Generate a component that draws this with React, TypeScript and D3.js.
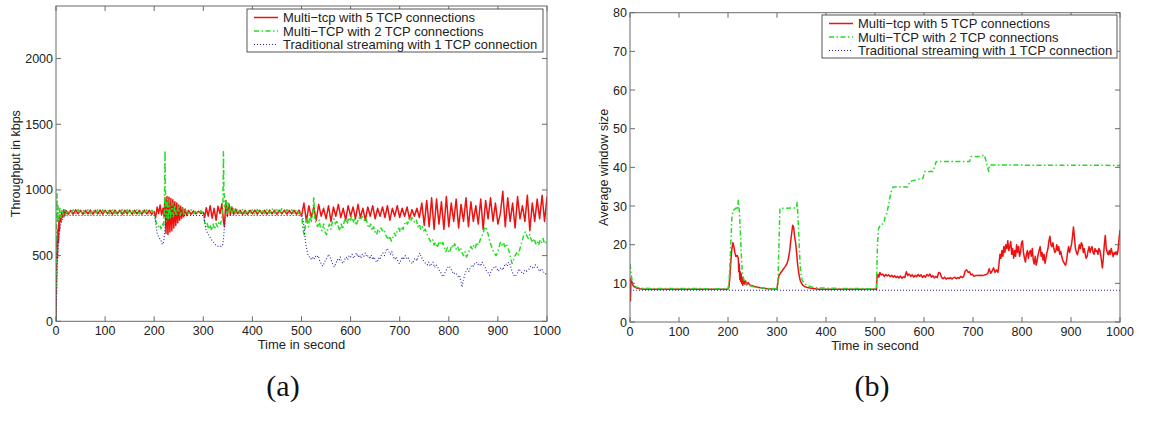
import React from 'react';
import * as d3 from 'd3';

type Pt = [number, number];

// shared axis data
const timeTicks = [0, 100, 200, 300, 400, 500, 600, 700, 800, 900, 1000];
const throughputTicks = [0, 500, 1000, 1500, 2000];
const windowTicks = [0, 10, 20, 30, 40, 50, 60, 70, 80];

const legendLabels = [
  'Multi\u2212tcp with 5 TCP connections',
  'Multi\u2212TCP with 2 TCP connections',
  'Traditional streaming with 1 TCP connection',
];

// (a) throughput, kbps
const tcp5Throughput: Pt[] = [
  [0, 0], [1, 320], [2, 610], [3, 480], [4, 700], [5, 600], [6, 770], [7, 690], [8, 810], [10, 760], [12, 840], [14, 790], [16, 850], [18, 805], [20, 845],
  [25, 815], [30, 845], [35, 815], [40, 848], [45, 818], [50, 845], [55, 815], [60, 845], [65, 818], [70, 846], [75, 815], [80, 845], [85, 818], [90, 846], [95, 815],
  [100, 845], [105, 818], [110, 845], [115, 815], [120, 846], [125, 818], [130, 845], [135, 815], [140, 845], [145, 818], [150, 846], [155, 815], [160, 845], [165, 818],
  [170, 845], [175, 815], [180, 846], [185, 818], [190, 845], [195, 815], [200, 835],
  [203, 790], [206, 870], [209, 820], [212, 885], [215, 810], [218, 860], [220, 800], [222, 940], [224, 670], [226, 950], [228, 660], [230, 945], [232, 680], [234, 935],
  [236, 690], [238, 925], [240, 710], [242, 910], [244, 730], [246, 900], [248, 750], [250, 885], [252, 770], [254, 875], [256, 785], [258, 865], [260, 795], [263, 855],
  [266, 805], [270, 845], [275, 815], [280, 840], [285, 818], [290, 838], [295, 820], [300, 830],
  [303, 790], [306, 865], [310, 800], [314, 880], [318, 785], [322, 860], [326, 770], [330, 875], [334, 820], [338, 895], [341, 760], [343, 720], [346, 920], [349, 800],
  [352, 895], [355, 810], [358, 870], [362, 815], [366, 855], [370, 818], [375, 845], [380, 815], [385, 845], [390, 815], [395, 845], [400, 818], [405, 846], [410, 815],
  [415, 845], [420, 818], [425, 845], [430, 815], [435, 846], [440, 818], [445, 845], [450, 815], [455, 845], [460, 818], [465, 846], [470, 815], [475, 845], [480, 818],
  [485, 845], [490, 815], [495, 846], [500, 800],
  [505, 900], [510, 760], [515, 880], [520, 790], [525, 870], [530, 770], [535, 890], [540, 800], [545, 860], [550, 780], [555, 880], [560, 760], [565, 870], [570, 800],
  [575, 890], [580, 790], [585, 860], [590, 770], [595, 880], [600, 800], [605, 870], [610, 780], [615, 890], [620, 790], [625, 860], [630, 770], [635, 870], [640, 800],
  [645, 880], [650, 780], [655, 860], [660, 800], [665, 870], [670, 790], [675, 880], [680, 770], [685, 860], [690, 800], [695, 880], [700, 790], [705, 860], [710, 800],
  [715, 870], [720, 780], [725, 850], [730, 800], [735, 860], [740, 790], [745, 900], [750, 730], [755, 920], [760, 720], [765, 940], [770, 700], [775, 930], [780, 740],
  [785, 910], [790, 700], [795, 950], [800, 720], [805, 900], [810, 760], [815, 930], [820, 710], [825, 890], [830, 760], [835, 940], [840, 720], [845, 910], [850, 760],
  [855, 880], [860, 740], [865, 930], [870, 700], [875, 920], [880, 780], [885, 940], [890, 760], [895, 900], [900, 740], [905, 820], [910, 990], [915, 720], [920, 940],
  [925, 760], [930, 900], [935, 710], [940, 950], [945, 780], [950, 880], [955, 760], [960, 960], [965, 690], [970, 900], [975, 760], [980, 930], [985, 780], [990, 960],
  [995, 760], [1000, 950],
];

const tcp2Throughput: Pt[] = [
  [0, 0], [1, 520], [2, 970], [3, 750], [4, 880], [6, 770], [8, 860], [10, 790], [12, 850], [15, 810], [18, 845], [20, 815],
  [25, 848], [30, 818], [35, 848], [40, 820], [45, 850], [50, 818], [55, 848], [60, 820], [65, 848], [70, 818], [75, 850], [80, 820], [85, 848], [90, 818], [95, 848],
  [100, 820], [105, 850], [110, 818], [115, 848], [120, 820], [125, 848], [130, 818], [135, 850], [140, 820], [145, 848], [150, 818], [155, 848], [160, 820], [165, 850],
  [170, 818], [175, 848], [180, 820], [185, 848], [190, 818], [195, 845], [200, 825],
  [202, 780], [205, 740], [208, 720], [211, 735], [214, 705], [217, 740], [219, 720], [221, 880], [222, 1300], [223, 960], [225, 760], [227, 930], [229, 770], [231, 920],
  [233, 780], [236, 900], [239, 790], [242, 885], [245, 800], [249, 870], [253, 805], [257, 860], [261, 812], [265, 852], [270, 818], [275, 848], [280, 818], [285, 845],
  [290, 818], [295, 842], [300, 822],
  [302, 770], [305, 720], [308, 745], [311, 700], [314, 735], [317, 690], [320, 740], [323, 700], [326, 745], [329, 720], [332, 760], [335, 740], [338, 790], [340, 900],
  [341, 1290], [342, 1000], [344, 870], [346, 930], [348, 820], [350, 900], [353, 825], [356, 880], [359, 820], [362, 865], [366, 820], [370, 858], [375, 820], [380, 850],
  [385, 818], [390, 850], [395, 820], [400, 848], [405, 818], [410, 850], [415, 820], [420, 848], [425, 820], [430, 852], [435, 822], [440, 858], [445, 825], [450, 860],
  [455, 826], [460, 856], [465, 822], [470, 850], [475, 818], [480, 848], [485, 820], [490, 850], [495, 818], [500, 825],
  [503, 700], [506, 650], [508, 740], [511, 780], [514, 720], [517, 810], [520, 760], [523, 820], [525, 950], [527, 780], [530, 740], [533, 720], [536, 770], [539, 700],
  [542, 690], [545, 740], [548, 680], [551, 660], [554, 710], [557, 740], [560, 700], [563, 760], [566, 780], [569, 740], [572, 770], [575, 720], [578, 690], [581, 740],
  [584, 700], [587, 760], [590, 780], [593, 740], [596, 790], [599, 760], [602, 800], [605, 750], [608, 780], [611, 730], [614, 760], [617, 790], [620, 770], [623, 800],
  [626, 790], [629, 760], [632, 780], [635, 730], [638, 710], [641, 740], [644, 690], [647, 720], [650, 680], [653, 660], [656, 700], [659, 680], [662, 710], [665, 690],
  [668, 700], [671, 660], [674, 640], [677, 620], [680, 650], [683, 610], [686, 640], [689, 670], [692, 650], [695, 690], [698, 710], [701, 680], [704, 720], [707, 700],
  [710, 740], [713, 760], [716, 740], [719, 780], [722, 760], [725, 790], [728, 770], [731, 750], [734, 770], [737, 720], [740, 740], [743, 700], [746, 720], [749, 690],
  [752, 700], [755, 670], [758, 640], [761, 620], [764, 600], [767, 620], [770, 580], [773, 600], [776, 560], [779, 590], [782, 610], [785, 580], [788, 600], [791, 560],
  [794, 530], [797, 560], [800, 520], [803, 540], [806, 580], [809, 560], [812, 590], [815, 550], [818, 570], [821, 540], [824, 560], [827, 520], [830, 500], [833, 530],
  [836, 490], [839, 510], [842, 540], [845, 570], [848, 550], [851, 580], [854, 560], [857, 600], [860, 580], [863, 610], [866, 640], [869, 660], [872, 700], [875, 720],
  [878, 690], [881, 650], [884, 600], [887, 570], [890, 540], [893, 520], [896, 500], [899, 520], [902, 560], [905, 600], [908, 580], [911, 600], [914, 570], [917, 590],
  [920, 560], [923, 530], [926, 480], [929, 440], [932, 470], [935, 500], [938, 520], [941, 500], [944, 540], [947, 580], [950, 620], [953, 660], [956, 680], [959, 650],
  [962, 630], [965, 660], [968, 620], [971, 600], [974, 630], [977, 590], [980, 610], [983, 580], [986, 620], [989, 600], [992, 630], [995, 590], [998, 600], [1000, 610],
];

const tcp1Throughput: Pt[] = [
  [0, 0], [1, 150], [2, 330], [3, 450], [4, 540], [5, 600], [6, 650], [8, 700], [10, 740], [12, 765], [14, 780], [17, 795], [20, 802], [25, 805], [200, 805],
  [202, 780], [204, 720], [206, 670], [208, 650], [210, 640], [212, 625], [214, 615], [216, 590], [218, 585], [220, 620], [222, 720], [224, 790], [226, 805], [300, 805],
  [302, 780], [304, 730], [306, 690], [309, 670], [312, 650], [315, 630], [318, 615], [321, 600], [324, 585], [327, 575], [330, 572], [333, 575], [336, 570], [339, 575],
  [341, 620], [343, 720], [345, 790], [348, 805], [500, 805],
  [502, 800], [504, 750], [506, 680], [508, 610], [510, 560], [513, 510], [516, 490], [519, 475], [522, 490], [525, 470], [528, 495], [531, 485], [534, 500], [537, 460],
  [540, 440], [543, 420], [546, 440], [549, 470], [552, 480], [555, 510], [558, 490], [561, 460], [564, 430], [567, 415], [570, 440], [573, 470], [576, 460], [579, 490],
  [582, 450], [585, 440], [588, 470], [591, 490], [594, 470], [597, 500], [600, 490], [603, 510], [606, 480], [609, 500], [612, 520], [615, 490], [618, 505], [621, 480],
  [624, 510], [627, 495], [630, 520], [633, 490], [636, 500], [639, 475], [642, 505], [645, 470], [648, 490], [651, 460], [654, 450], [657, 480], [660, 470], [663, 510],
  [666, 520], [669, 500], [672, 540], [675, 555], [678, 530], [681, 510], [684, 530], [687, 490], [690, 470], [693, 490], [696, 460], [699, 440], [702, 460], [705, 490],
  [708, 470], [711, 500], [714, 480], [717, 490], [720, 460], [723, 450], [726, 440], [729, 470], [732, 480], [735, 460], [738, 500], [741, 520], [744, 490], [747, 470],
  [750, 450], [753, 440], [756, 430], [759, 450], [762, 420], [765, 440], [768, 450], [771, 410], [774, 430], [777, 420], [780, 390], [783, 380], [786, 350], [789, 340],
  [792, 370], [795, 390], [798, 410], [801, 420], [804, 400], [807, 380], [810, 360], [813, 370], [816, 360], [819, 340], [822, 350], [825, 300], [827, 260], [829, 300],
  [832, 350], [835, 380], [838, 400], [841, 380], [844, 410], [847, 430], [850, 420], [853, 440], [856, 450], [859, 430], [862, 440], [865, 420], [868, 450], [871, 430],
  [874, 410], [877, 380], [880, 370], [883, 350], [886, 380], [889, 400], [892, 410], [895, 420], [898, 400], [901, 380], [904, 400], [907, 410], [910, 390], [913, 420],
  [916, 440], [919, 420], [922, 450], [925, 430], [928, 390], [931, 360], [934, 340], [937, 350], [940, 370], [943, 400], [946, 380], [949, 370], [952, 360], [955, 390],
  [958, 380], [961, 390], [964, 400], [967, 420], [970, 410], [973, 400], [976, 430], [979, 420], [982, 400], [985, 380], [988, 400], [991, 390], [994, 370], [997, 360],
  [1000, 370],
];

// (b) average window size
const tcp5Window: Pt[] = [
  [0, 11.5], [1, 5.5], [2, 11], [3, 10], [4, 10.5], [6, 9.5], [8, 9.2], [10, 9], [14, 8.8], [20, 8.6], [30, 8.5], [200, 8.5],
  [202, 9], [204, 12], [206, 16], [208, 19], [210, 20.5], [212, 19.5], [214, 18], [216, 17], [219, 17.2], [221, 16.5], [222, 13], [223, 15], [224, 11], [225, 13],
  [226, 10.5], [227, 12.5], [228, 10], [229, 11.5], [230, 9.5], [232, 11], [234, 9.8], [236, 10.6], [238, 9.6], [241, 10.2], [245, 9.5], [250, 9.4], [255, 9.1],
  [260, 9], [270, 8.8], [280, 8.6], [300, 8.5],
  [302, 10.5], [304, 12], [308, 12.8], [312, 13.5], [316, 14.2], [320, 15], [323, 16.2], [326, 18.5], [328, 21], [330, 23], [332, 25], [334, 24.5], [336, 22],
  [338, 20.5], [340, 18], [342, 15], [344, 13], [346, 11.5], [348, 10.5], [352, 9.6], [356, 9.2], [362, 8.9], [370, 8.7], [385, 8.5], [503, 8.5],
  [504, 11.5], [506, 12.3], [508, 11.6], [510, 12.8], [513, 12.2], [516, 12.4], [519, 11.8], [522, 12.3], [525, 11.9], [528, 12.2], [531, 11.7], [534, 12.1],
  [537, 11.6], [540, 12], [543, 11.5], [546, 11.8], [549, 11.4], [552, 11.9], [555, 11.3], [558, 11.7], [561, 11.5], [564, 13], [567, 12], [570, 12.4], [573, 11.8],
  [576, 12.2], [579, 11.6], [582, 12.1], [585, 11.7], [588, 12.3], [591, 11.8], [594, 12.2], [597, 11.5], [600, 12], [603, 11.6], [606, 12.3], [609, 11.9],
  [612, 12.4], [615, 11.6], [618, 12], [621, 11.4], [624, 11.8], [627, 11.5], [630, 12.8], [633, 12.6], [636, 11.5], [639, 11.2], [642, 11.6], [645, 11.1],
  [648, 11.4], [651, 11.2], [654, 11.5], [657, 11.1], [660, 11.4], [663, 11.6], [666, 11.2], [669, 11.5], [672, 11.3], [675, 11.8], [678, 11.5], [681, 11.8],
  [684, 13.2], [687, 13.5], [690, 12.8], [693, 13], [696, 12.2], [699, 12.4], [702, 11.8], [705, 12], [710, 12], [715, 12.1], [720, 12], [725, 12.2], [730, 12.5],
  [733, 13.8], [736, 12.6], [739, 13.2], [742, 14], [745, 12.8], [748, 13.5], [751, 12.8], [753, 15], [755, 17.5], [757, 16.5], [759, 18.5], [761, 17], [763, 19.5],
  [765, 18], [767, 20], [769, 19], [771, 21], [773, 18.5], [775, 19.5], [777, 20.8], [779, 17.5], [781, 19], [783, 16.5], [785, 18.5], [787, 17], [789, 20],
  [791, 18], [793, 19.5], [795, 17], [797, 18], [799, 20.5], [801, 21], [803, 18], [805, 16.5], [807, 15.5], [809, 17.5], [811, 18.5], [813, 16.5], [815, 18],
  [817, 18.5], [819, 17], [821, 19], [823, 16], [825, 15], [827, 17], [829, 14.7], [831, 16], [833, 17.5], [835, 18.5], [837, 19.5], [839, 17], [841, 18],
  [843, 16], [845, 17.5], [847, 15.2], [849, 16.5], [851, 18], [853, 19], [855, 21], [857, 22.2], [859, 20], [861, 19.5], [863, 20.5], [865, 19], [867, 18],
  [869, 18.3], [871, 20], [873, 18.5], [875, 19.5], [877, 17.5], [879, 18.3], [881, 17], [883, 16], [885, 15.5], [887, 15], [889, 14.7], [891, 16], [893, 18],
  [895, 19.5], [897, 18], [899, 19], [901, 20], [903, 22], [905, 24.6], [907, 22], [909, 19], [911, 18], [913, 17.4], [915, 18.5], [917, 20], [919, 19],
  [921, 20.5], [923, 20], [925, 18], [927, 19], [929, 17.5], [931, 16.5], [933, 17], [935, 18.5], [937, 19.5], [939, 18], [941, 19], [943, 19.5], [945, 18],
  [947, 17.5], [949, 19], [951, 18.3], [953, 18.5], [955, 17.5], [957, 19], [959, 18.5], [961, 17], [963, 15], [964, 14], [966, 16.5], [968, 20], [970, 22.4],
  [972, 19], [974, 18], [976, 17.4], [978, 18.5], [980, 17.5], [982, 19], [984, 18], [986, 16.9], [988, 18], [990, 17.5], [992, 18.2], [994, 17.4], [996, 18.5],
  [998, 21.5], [1000, 23.8],
];

const tcp2Window: Pt[] = [
  [0, 15], [1, 14], [2, 12.5], [4, 11], [6, 10], [9, 9.3], [14, 9], [20, 8.8], [30, 8.7], [200, 8.6],
  [202, 10], [204, 15], [206, 21], [208, 27], [210, 28.8], [214, 29.2], [217, 29.5], [219, 29], [221, 31.5], [222, 30], [223, 29], [225, 24], [227, 18], [229, 13],
  [232, 11], [236, 10], [242, 9.5], [250, 9.2], [265, 8.9], [280, 8.7], [300, 8.6],
  [302, 11], [304, 20], [306, 29.4], [340, 29.5], [341, 31], [342, 29], [344, 24], [346, 18], [348, 13], [351, 11], [355, 10], [362, 9.4], [372, 9], [390, 8.8],
  [420, 8.7], [503, 8.6],
  [505, 20], [507, 24], [510, 25], [518, 25.5], [520, 26.8], [524, 28.1], [527, 29.8], [530, 32], [534, 34.1], [537, 34.9], [567, 34.9], [571, 36.3], [575, 36.5],
  [598, 37.2], [601, 38.9], [618, 38.9], [621, 40], [625, 41.5], [693, 41.5], [696, 42.8], [715, 42.8], [723, 43.2], [728, 41], [732, 38.9], [734, 40.6],
  [1000, 40.5],
];

const tcp1Window: Pt[] = [[0, 8.2], [1000, 8.2]];

const FONT = '"Liberation Sans", Arial, Helvetica, sans-serif';
const RED = '#ee1111';
const GREEN = '#22dd22';
const BLUE = '#2626a0';

const styles = [
  { color: RED, width: 1.5, dash: undefined as string | undefined },
  { color: GREEN, width: 1.5, dash: '5 2.5 1.5 2.5' },
  { color: BLUE, width: 1.1, dash: '1 2' },
];

type PanelProps = {
  id: string;
  left: number; right: number; top: number; bottom: number;
  yMax: number; yTicks: number[]; yLabel: string; yLabelX: number;
  series: Pt[][];
  legendBox: { x: number; y: number; w: number; h: number };
  caption: string; captionX: number;
};

function Panel(p: PanelProps) {
  const x = d3.scaleLinear().domain([0, 1000]).range([p.left, p.right]);
  const y = d3.scaleLinear().domain([0, p.yMax]).range([p.bottom, p.top]);
  const line = d3.line<Pt>().x(d => x(d[0])).y(d => y(d[1]));
  const tick = 5;
  const lb = p.legendBox;
  const rowOffsets = [8.5, 22, 35.5];
  const cx = (p.left + p.right) / 2;
  return (
    <g>
      <defs>
        <clipPath id={`clip-${p.id}`}>
          <rect x={p.left} y={p.top} width={p.right - p.left} height={p.bottom - p.top} />
        </clipPath>
      </defs>
      <g clipPath={`url(#clip-${p.id})`}>
        {p.series.map((s, i) => (
          <path key={i} d={line(s) || ''} fill="none" stroke={styles[i].color}
            strokeWidth={styles[i].width} strokeDasharray={styles[i].dash} strokeLinejoin="round" />
        ))}
      </g>
      <rect x={p.left} y={p.top} width={p.right - p.left} height={p.bottom - p.top} fill="none" stroke="#6a6a6a" strokeWidth={1} />
      {timeTicks.map(t => (
        <g key={`x${t}`}>
          <line x1={x(t)} x2={x(t)} y1={p.bottom} y2={p.bottom - tick} stroke="#6a6a6a" />
          <line x1={x(t)} x2={x(t)} y1={p.top} y2={p.top + tick} stroke="#6a6a6a" />
          <text x={x(t)} y={p.bottom + 13.5} textAnchor="middle" fontSize={12.5} fontFamily={FONT} fill="#222">{t}</text>
        </g>
      ))}
      {p.yTicks.map(v => (
        <g key={`y${v}`}>
          <line x1={p.left} x2={p.left + tick} y1={y(v)} y2={y(v)} stroke="#6a6a6a" />
          <line x1={p.right} x2={p.right - tick} y1={y(v)} y2={y(v)} stroke="#6a6a6a" />
          <text x={p.left - 3} y={y(v) + 4.5} textAnchor="end" fontSize={12.5} fontFamily={FONT} fill="#222">{v}</text>
        </g>
      ))}
      <text x={cx} y={p.bottom + 28} textAnchor="middle" fontSize={13} fontFamily={FONT} fill="#222">Time in second</text>
      <text transform={`translate(${p.yLabelX + 4.5},${(p.top + p.bottom) / 2}) rotate(-90)`} textAnchor="middle"
        fontSize={12.5} fontFamily={FONT} fill="#222">{p.yLabel}</text>
      <rect x={lb.x} y={lb.y} width={lb.w} height={lb.h} fill="#fff" stroke="#444" strokeWidth={0.9} />
      {legendLabels.map((label, i) => {
        const ry = lb.y + rowOffsets[i];
        return (
          <g key={label}>
            <line x1={lb.x + 7} x2={lb.x + 31} y1={ry} y2={ry} stroke={styles[i].color}
              strokeWidth={styles[i].width} strokeDasharray={styles[i].dash} />
            <text x={lb.x + 36} y={ry + 4.5} fontSize={13} fontFamily={FONT} fill="#222">{label}</text>
          </g>
        );
      })}
      <text x={p.captionX} y={396} textAnchor="middle" fontSize={30} fontFamily='"Liberation Serif", serif' fill="#111">{p.caption}</text>
    </g>
  );
}

export default function App() {
  return (
    <svg width={1149} height={421} style={{ position: 'absolute', left: 0, top: 0, background: '#fff' }}>
      <rect width={1149} height={421} fill="#fff" />
      <Panel id="a" left={56} right={547} top={6} bottom={321.3} yMax={2400} yTicks={throughputTicks}
        yLabel="Throughput in kbps" yLabelX={15} series={[tcp5Throughput, tcp2Throughput, tcp1Throughput]}
        legendBox={{ x: 247, y: 9, w: 296, h: 43 }} caption="(a)" captionX={283} />
      <Panel id="b" left={630} right={1120} top={12.7} bottom={322} yMax={80} yTicks={windowTicks}
        yLabel="Average window size" yLabelX={603} series={[tcp5Window, tcp2Window, tcp1Window]}
        legendBox={{ x: 822, y: 15, w: 295, h: 43 }} caption="(b)" captionX={872} />
    </svg>
  );
}
